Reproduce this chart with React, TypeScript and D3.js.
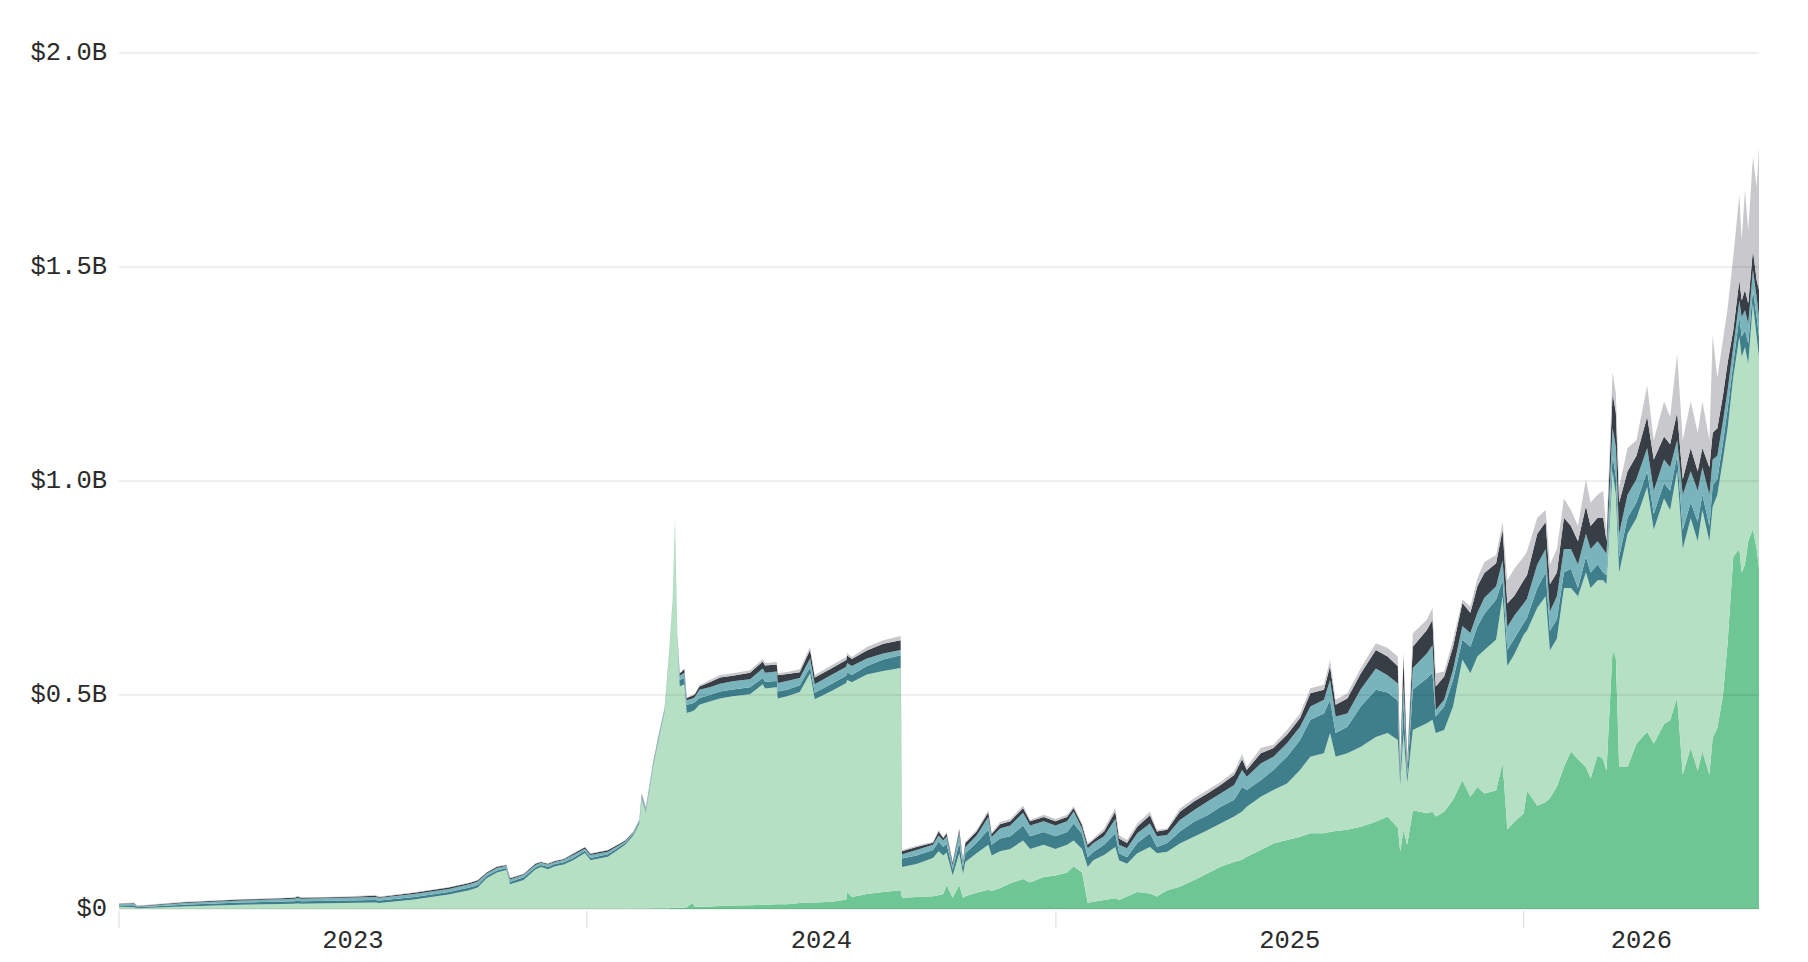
import React from "react";
import * as d3 from "d3";

// Decimal-year sample times
const times = [
  2023.000, 2023.032, 2023.039, 2023.138, 2023.261, 2023.375, 2023.382, 2023.389, 2023.483, 2023.547,
  2023.557, 2023.631, 2023.705, 2023.749, 2023.767, 2023.786, 2023.808, 2023.828, 2023.836, 2023.865,
  2023.890, 2023.902, 2023.917, 2023.932, 2023.951, 2023.971, 2023.996, 2024.008, 2024.045, 2024.082,
  2024.099, 2024.112, 2024.117, 2024.126, 2024.141, 2024.151, 2024.166, 2024.176, 2024.183, 2024.188,
  2024.193, 2024.198, 2024.208, 2024.213, 2024.225, 2024.230, 2024.240, 2024.262, 2024.284, 2024.311,
  2024.348, 2024.375, 2024.380, 2024.405, 2024.407, 2024.427, 2024.454, 2024.476, 2024.486, 2024.523,
  2024.553, 2024.555, 2024.565, 2024.597, 2024.632, 2024.669, 2024.672, 2024.703, 2024.738, 2024.750,
  2024.760, 2024.767, 2024.780, 2024.794, 2024.802, 2024.807, 2024.831, 2024.856, 2024.863, 2024.881,
  2024.903, 2024.930, 2024.945, 2024.974, 2024.999, 2025.024, 2025.038, 2025.056, 2025.068, 2025.080,
  2025.103, 2025.127, 2025.135, 2025.152, 2025.174, 2025.201, 2025.216, 2025.238, 2025.265, 2025.295,
  2025.324, 2025.352, 2025.381, 2025.398, 2025.408, 2025.438, 2025.465, 2025.494, 2025.522, 2025.544,
  2025.573, 2025.586, 2025.598, 2025.623, 2025.652, 2025.684, 2025.709, 2025.731, 2025.736, 2025.743,
  2025.751, 2025.763, 2025.793, 2025.805, 2025.812, 2025.830, 2025.849, 2025.869, 2025.886, 2025.901,
  2025.916, 2025.941, 2025.955, 2025.965, 2025.980, 2026.000, 2026.007, 2026.029, 2026.047, 2026.056,
  2026.071, 2026.086, 2026.101, 2026.116, 2026.133, 2026.143, 2026.158, 2026.170, 2026.177, 2026.190,
  2026.197, 2026.204, 2026.222, 2026.241, 2026.264, 2026.278, 2026.300, 2026.313, 2026.328, 2026.340,
  2026.357, 2026.372, 2026.382, 2026.397, 2026.404, 2026.414, 2026.426, 2026.436, 2026.448, 2026.461,
  2026.466, 2026.473, 2026.480, 2026.490, 2026.498, 2026.503,
];

// Layer values in $M, bottom to top
const greenDark = [
  0, 0, 0, 0, 0, 0, 0, 0, 0, 0,
  0, 0, 0, 0, 0, 0, 0, 0, 0, 0,
  0, 0, 0, 0, 0, 0, 0, 0, 0, 0,
  1, 1, 1, 1, 2, 2, 2, 2, 3, 3,
  3, 3, 3, 4, 14, 5, 5, 6, 7, 8,
  9, 10, 10, 11, 11, 11, 14, 15, 15, 17,
  22, 40, 28, 35, 40, 44, 26, 28, 30, 32,
  35, 56, 26, 56, 26, 30, 38, 45, 42, 49,
  60, 70, 62, 75, 78, 85, 100, 85, 14, 17,
  21, 25, 21, 29, 40, 36, 29, 44, 52, 67,
  83, 99, 110, 115, 122, 138, 153, 161, 169, 177,
  177, 180, 182, 185, 192, 204, 216, 190, 134, 185,
  150, 231, 224, 227, 216, 227, 255, 301, 262, 285,
  270, 277, 341, 186, 204, 223, 277, 241, 250, 259,
  286, 332, 368, 350, 332, 305, 359, 350, 323, 605,
  587, 332, 332, 386, 414, 386, 432, 441, 495, 314,
  377, 323, 368, 314, 400, 423, 500, 623, 823, 841,
  786, 805, 860, 887, 841, 796,
];

const greenLight = [
  5, 4, 2, 6, 10, 12, 13, 12, 14, 15,
  14, 22, 34, 44, 50, 72, 85, 91, 58, 68,
  92, 98, 93, 100, 104, 114, 131, 114, 122, 150,
  171, 199, 257, 225, 328, 383, 460, 596, 715, 915,
  637, 517, 522, 454, 448, 460, 472, 479, 485, 489,
  493, 515, 505, 507, 481, 486, 493, 535, 475, 493,
  506, 495, 502, 513, 516, 519, 72, 77, 89, 103,
  90, 76, 52, 74, 56, 80, 92, 105, 83, 86,
  80, 90, 78, 75, 62, 65, 60, 55, 84, 97,
  105, 120, 93, 77, 90, 109, 101, 90, 101, 102,
  101, 101, 106, 113, 117, 124, 125, 132, 156, 179,
  187, 231, 174, 179, 187, 198, 195, 205, 156, 226,
  145, 187, 210, 215, 195, 191, 218, 282, 289, 305,
  335, 352, 390, 382, 391, 418, 373, 463, 481, 345,
  346, 418, 382, 381, 454, 445, 409, 418, 436, 418,
  381, 454, 545, 527, 572, 500, 527, 491, 528, 527,
  536, 536, 564, 545, 540, 545, 550, 500, 420, 496,
  504, 508, 414, 528, 496, 494,
];

const tealDark = [
  3, 5, 2, 4, 5, 6, 6, 6, 6, 6,
  6, 6, 6, 6, 6, 5, 5, 5, 5, 6,
  5, 5, 5, 5, 5, 5, 5, 5, 6, 4,
  4, 4, 4, 4, 4, 4, 4, 3, 2, 1,
  2, 15, 15, 19, 18, 18, 16, 15, 16, 16,
  16, 15, 16, 15, 16, 15, 16, 15, 15, 17,
  17, 18, 17, 20, 27, 30, 20, 20, 19, 23,
  20, 20, 14, 25, 16, 20, 25, 35, 25, 30,
  30, 35, 30, 30, 30, 30, 40, 35, 23, 19,
  24, 32, 16, 15, 24, 32, 15, 20, 28, 35,
  35, 39, 39, 57, 39, 39, 47, 63, 70, 86,
  93, 78, 55, 62, 95, 110, 95, 92, 15, 69,
  17, 95, 105, 110, 39, 55, 62, 46, 62, 70,
  85, 94, 37, 37, 37, 27, 30, 46, 55, 46,
  45, 36, 45, 19, 37, 36, 37, 18, 21, 36,
  42, 37, 37, 37, 37, 37, 36, 45, 36, 45,
  37, 46, 36, 36, 50, 36, 40, 45, 31, 46,
  47, 39, 47, 31, 46, 47,
];

const tealLight = [
  3, 4, 2, 4, 5, 6, 7, 6, 6, 7,
  6, 7, 7, 8, 8, 6, 6, 5, 6, 6,
  6, 5, 6, 5, 6, 7, 5, 7, 6, 4,
  3, 3, 4, 4, 4, 3, 4, 2, 1, 1,
  2, 10, 12, 11, 12, 12, 19, 18, 18, 19,
  19, 22, 21, 22, 20, 21, 17, 20, 20, 21,
  21, 22, 21, 17, 14, 12, 10, 13, 12, 14,
  15, 18, 10, 23, 9, 15, 17, 30, 18, 23,
  25, 30, 25, 25, 25, 25, 28, 13, 21, 21,
  20, 33, 20, 21, 23, 23, 25, 19, 27, 27,
  32, 31, 35, 40, 31, 39, 31, 31, 31, 31,
  32, 46, 39, 31, 40, 50, 40, 40, 13, 45,
  13, 50, 58, 64, 15, 16, 24, 32, 32, 32,
  37, 31, 46, 54, 54, 46, 45, 55, 55, 45,
  54, 55, 46, 55, 54, 55, 54, 55, 50, 64,
  70, 54, 54, 54, 54, 54, 55, 55, 36, 82,
  73, 72, 64, 73, 60, 55, 50, 45, 39, 39,
  46, 47, 47, 47, 47, 46,
];

const grayDark = [
  1, 1, 1, 2, 2, 2, 3, 2, 2, 3,
  2, 3, 3, 3, 3, 2, 3, 2, 3, 2,
  3, 2, 2, 2, 2, 3, 3, 3, 3, 2,
  1, 1, 2, 2, 2, 2, 1, 1, 1, 0,
  1, 5, 8, 5, 6, 6, 8, 12, 15, 13,
  15, 16, 17, 16, 18, 16, 13, 20, 16, 15,
  16, 17, 16, 19, 23, 23, 7, 7, 5, 9,
  6, 7, 6, 8, 5, 9, 9, 11, 7, 10,
  10, 11, 10, 10, 10, 10, 8, 8, 8, 7,
  11, 18, 15, 12, 15, 19, 11, 12, 19, 20,
  19, 20, 23, 25, 16, 24, 20, 20, 20, 31,
  23, 32, 27, 35, 37, 43, 44, 40, 12, 65,
  13, 50, 55, 60, 55, 54, 54, 54, 47, 62,
  58, 54, 72, 55, 46, 54, 55, 72, 63, 64,
  55, 73, 54, 54, 64, 54, 55, 73, 30, 82,
  80, 73, 55, 55, 73, 73, 54, 54, 65, 36,
  54, 46, 45, 64, 63, 64, 60, 64, 39, 47,
  39, 47, 47, 46, 39, 63,
];

const grayLight = [
  1, 1, 1, 1, 1, 1, 2, 1, 1, 2,
  1, 1, 1, 1, 1, 1, 1, 1, 1, 1,
  1, 1, 1, 1, 1, 2, 1, 2, 1, 1,
  1, 1, 3, 2, 1, 1, 1, 1, 0, 0,
  0, 1, 3, 2, 2, 2, 3, 5, 6, 6,
  6, 6, 6, 6, 5, 5, 7, 7, 6, 7,
  7, 6, 5, 8, 8, 10, 3, 3, 2, 4,
  2, 3, 2, 3, 2, 3, 4, 5, 3, 5,
  5, 6, 3, 5, 5, 5, 4, 4, 4, 4,
  7, 8, 8, 7, 8, 8, 4, 3, 8, 7,
  8, 7, 8, 12, 7, 12, 8, 11, 11, 12,
  12, 15, 12, 12, 12, 16, 20, 23, 8, 12,
  8, 31, 24, 27, 31, 12, 16, 8, 15, 19,
  26, 19, 18, 54, 63, 55, 55, 37, 28, 46,
  55, 45, 37, 36, 63, 55, 54, 63, 17, 49,
  45, 36, 54, 36, 73, 45, 82, 64, 136, 91,
  109, 90, 109, 63, 228, 118, 130, 127, 172, 199,
  141, 234, 171, 218, 218, 335,
];

const seriesKeys = ["greenDark", "greenLight", "tealDark", "tealLight", "grayDark", "grayLight"];
const seriesColors = ["#6dc693", "#b6e0c4", "#3f7f8c", "#79b4bc", "#383e45", "#c9c8cc"];
const yTickValues = [0, 500, 1000, 1500, 2000];
const yTickLabels = ["$0", "$0.5B", "$1.0B", "$1.5B", "$2.0B"];
const xYears = [2023, 2024, 2025, 2026];

const W = 1808;
const H = 962;
const LEFT = 119;
const RIGHT = 1759;
const TOP = 53;
const BOTTOM = 909;

function yearToDate(t: number): Date {
  const y = Math.floor(t + 1e-9);
  const s = Date.UTC(y, 0, 1);
  const e = Date.UTC(y + 1, 0, 1);
  return new Date(s + (t - y) * (e - s));
}

export default function App() {
  const seriesData: Record<string, number[]> = {
    greenDark, greenLight, tealDark, tealLight, grayDark, grayLight,
  };
  const rows = times.map((t, i) => {
    const r: any = { date: yearToDate(t) };
    seriesKeys.forEach((k) => (r[k] = seriesData[k][i]));
    return r;
  });

  const x = d3
    .scaleUtc()
    .domain([yearToDate(times[0]), yearToDate(times[times.length - 1])])
    .range([LEFT, RIGHT]);
  const y = d3.scaleLinear().domain([0, 2000]).range([BOTTOM, TOP]);

  const stacked = d3.stack<any>().keys(seriesKeys)(rows);
  const area = d3
    .area<any>()
    .x((d) => x(d.data.date))
    .y0((d) => y(d[0]))
    .y1((d) => y(d[1]))
    .curve(d3.curveLinear);

  const tickXs = xYears.map((yr) => x(new Date(Date.UTC(yr, 0, 1))));
  const fontMono = "'Liberation Mono', 'DejaVu Sans Mono', monospace";

  return (
    <div style={{ position: "fixed", left: 0, top: 0, width: W, height: H, background: "#fff" }}>
      <svg width={W} height={H} style={{ display: "block" }}>
        <rect x={0} y={0} width={W} height={H} fill="#ffffff" />
        {stacked.map((s, i) => (
          <path key={seriesKeys[i]} d={area(s) || ""} fill={seriesColors[i]} stroke="none" />
        ))}
        {yTickValues.map((v) => (
          <line
            key={"g" + v}
            x1={LEFT}
            x2={RIGHT}
            y1={y(v)}
            y2={y(v)}
            stroke="#000"
            strokeOpacity={0.085}
            strokeWidth={1.5}
          />
        ))}
        {yTickValues.map((v, i) => (
          <text
            key={"yl" + v}
            x={107}
            y={y(v)}
            textAnchor="end"
            dominantBaseline="central"
            fontFamily={fontMono}
            fontSize={25.5}
            fill="#2b2b2b"
          >
            {yTickLabels[i]}
          </text>
        ))}
        {tickXs.map((tx, i) => (
          <line key={"xt" + i} x1={tx} x2={tx} y1={911} y2={928} stroke="#e2e2e2" strokeWidth={1.2} />
        ))}
        {xYears.map((yr, i) => {
          const a = tickXs[i];
          const b = i + 1 < tickXs.length ? tickXs[i + 1] : RIGHT;
          return (
            <text
              key={"xl" + yr}
              x={(a + b) / 2}
              y={941}
              textAnchor="middle"
              dominantBaseline="central"
              fontFamily={fontMono}
              fontSize={25.5}
              fill="#2b2b2b"
            >
              {String(yr)}
            </text>
          );
        })}
      </svg>
    </div>
  );
}
